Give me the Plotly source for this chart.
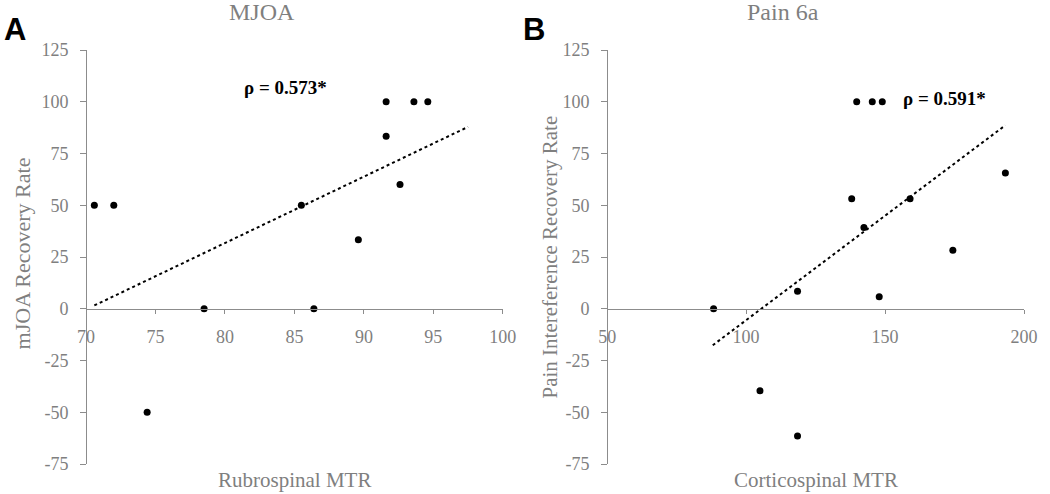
import numpy as np
import plotly.graph_objects as go

# ---- data ----
mjoa_x = [70.6, 72.0, 74.4, 78.5, 85.5, 86.4, 89.6, 91.6, 91.6, 92.6, 93.6, 94.6]
mjoa_y = [50, 50, -50, 0, 50, 0, 33.3, 100, 83.3, 60, 100, 100]
mjoa_trend_x = [70.6, 97.5]

pain_x = [88.3, 105.0, 118.5, 118.5, 138.0, 139.8, 142.4, 145.4, 147.9, 149.0, 159.0, 174.4, 193.3]
pain_y = [0, -39.6, 8.4, -61.5, 53.1, 100, 39.3, 100, 5.8, 100, 53.1, 28.3, 65.6]
pain_trend_x = [88.0, 193.3]

y_ticks = [-75, -50, -25, 0, 25, 50, 75, 100, 125]
y_ticklabels = ["-75", "-50", "-25", "0", "25", "50", "75", "100", "125"]
mjoa_xticks = [70, 75, 80, 85, 90, 95, 100]
pain_xticks = [50, 100, 150, 200]

W, H = 1050, 494
ML, MR, MT, MB = 86, 19, 50, 30
GRAY = "#7f7f7f"
LINE = "#8c8c8c"
SERIF = "Liberation Serif, Times New Roman, serif"

fig = go.Figure()

def add_panel(xs, ys, tx, xa, ya):
    fig.add_trace(go.Scatter(x=xs, y=ys, mode="markers",
                             marker=dict(color="black", size=7),
                             xaxis=xa, yaxis=ya, showlegend=False))
    m, b = np.polyfit(xs, ys, 1)
    tx = np.array(tx)
    fig.add_trace(go.Scatter(x=tx, y=m * tx + b, mode="lines",
                             line=dict(color="black", width=2, dash="dot"),
                             xaxis=xa, yaxis=ya, showlegend=False))

add_panel(mjoa_x, mjoa_y, mjoa_trend_x, "x", "y")
add_panel(pain_x, pain_y, pain_trend_x, "x2", "y2")

yr = [-75, 125]
zero_frac = (0 - yr[0]) / (yr[1] - yr[0])

common_ax = dict(showgrid=False, zeroline=False, showline=True, linecolor=LINE,
                 linewidth=1, ticks="outside", tickcolor=LINE,
                 tickfont=dict(family=SERIF, size=18, color=GRAY))
x_ax = dict(ticklen=4, ticklabelstandoff=8, **common_ax)
y_ax = dict(ticklen=6, ticklabelstandoff=8, **common_ax)

fig.update_layout(
    width=W, height=H,
    margin=dict(l=ML, r=MR, t=MT, b=MB),
    paper_bgcolor="white", plot_bgcolor="white",
    xaxis=dict(domain=[0, 0.4444], range=[70, 100], tickvals=mjoa_xticks,
               anchor="free", position=zero_frac, **x_ax),
    yaxis=dict(domain=[0, 1], range=yr, tickvals=y_ticks, ticktext=y_ticklabels,
               anchor="free", position=0, **y_ax),
    xaxis2=dict(domain=[0.5556, 1.0], range=[50, 200], tickvals=pain_xticks,
                anchor="free", position=zero_frac, **x_ax),
    yaxis2=dict(domain=[0, 1], range=yr, tickvals=y_ticks, ticktext=y_ticklabels,
                anchor="free", position=0.5556, **y_ax),
)

ann = []
def text(x, y, s, size, color=GRAY, family=SERIF, angle=0, xref="paper", yref="paper"):
    ann.append(dict(x=x, y=y, xref=xref, yref=yref, text=s, showarrow=False,
                    font=dict(family=family, size=size, color=color),
                    textangle=angle, xanchor="center", yanchor="middle"))

text(0.1873, 1.0918, "MJOA", 24)
text(0.7429, 1.0918, "Pain 6a", 24)
text(-0.0762, 1.0507, "<b>A</b>", 31, "black", "Liberation Sans, Arial, sans-serif")
text(0.478, 1.0507, "<b>B</b>", 31, "black", "Liberation Sans, Arial, sans-serif")
text(0.2222, -0.0386, "Rubrospinal MTR", 21)
text(0.7778, -0.0386, "Corticospinal MTR", 21)
text(-0.0667, 0.5097, "mJOA Recovery Rate", 22, angle=-90)
text(0.4952, 0.50, "Pain Intereference Recovery Rate", 21, angle=-90)
text(84.36, 106.7, "<b>ρ = 0.573*</b>", 19, "black", xref="x", yref="y")
text(171.4, 101.8, "<b>ρ = 0.591*</b>", 19, "black", xref="x2", yref="y2")
fig.update_layout(annotations=ann)

fig.write_html("out.html", config={"displayModeBar": False},
               post_script="document.body.style.margin='0px';")
